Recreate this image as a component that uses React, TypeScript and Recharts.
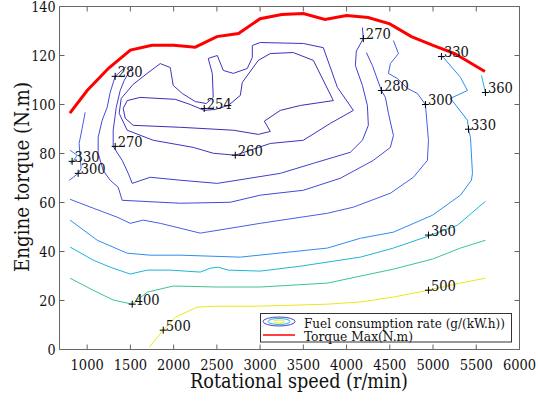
import React from 'react';
import { ComposedChart, Line, Scatter, XAxis, YAxis } from 'recharts';

const SERIF = 'DejaVu Serif Condensed, DejaVu Serif';
const AXIS = '#666';

const speedTicks = [1000, 1500, 2000, 2500, 3000, 3500, 4000, 4500, 5000, 5500, 6000];
const torqueTicks = [0, 20, 40, 60, 80, 100, 120, 140];

// max torque curve
const maxSpeed = [800, 1000, 1250, 1500, 1750, 2000, 2250, 2500, 2750, 3000, 3250, 3500, 3750, 4000, 4250, 4500, 4750, 5000, 5250, 5600];
const maxTorque = [96.5, 105.7, 114.9, 122.2, 124.2, 124.2, 123.4, 127.7, 129.0, 135.0, 136.7, 137.1, 134.7, 136.3, 135.5, 132.9, 127.7, 124.1, 120.8, 113.5];

// fuel consumption contours, [speed, torque]
const c254: [number, number][] = [
  [2354, 97.6], [2192, 100.0], [2019, 102.1], [1613, 102.9], [1463, 101.6], [1417, 98.4], [1440, 94.4],
  [1532, 91.5], [2076, 90.7], [2690, 89.5], [2979, 87.8], [3118, 89.0], [3049, 93.2], [3234, 97.6],
  [3465, 99.6], [3847, 101.6], [3616, 118.0], [3384, 121.2], [3118, 120.8], [2979, 118.0], [2794, 109.0],
  [2771, 103.7], [2632, 99.6], [2481, 98.0], [2354, 97.6],
];
const c260: [number, number][] = [
  [1463, 89.5], [1370, 96.4], [1394, 102.5], [1532, 108.2], [1694, 112.7], [1845, 116.7], [1961, 115.1],
  [1995, 107.8], [2100, 104.5], [2250, 101.2], [2377, 100.4], [2458, 102.9], [2447, 112.7], [2400, 118.8],
  [2505, 120.0], [2574, 113.9], [2690, 112.7], [2852, 114.7], [2910, 119.2], [2910, 124.1], [3002, 125.3],
  [3500, 124.9], [3731, 123.2], [3894, 107.0], [4079, 97.6], [3812, 92.3], [3500, 85.4], [3118, 84.1],
  [2713, 79.3], [2458, 80.1], [2227, 82.5], [1764, 85.4], [1463, 89.5],
];
const c270: [number, number][] = [
  [1521, 115.5], [1428, 109.8], [1382, 105.7], [1336, 98.8], [1301, 89.5], [1301, 82.9], [1405, 77.2],
  [1475, 71.9], [1521, 67.8], [1729, 70.3], [2076, 69.1], [2505, 67.8], [3234, 71.9], [3616, 76.0],
  [4044, 80.5], [4183, 85.4], [4252, 91.5], [4241, 99.6], [4183, 107.8], [4102, 115.9], [4113, 121.8],
  [4194, 126.9], [4183, 131.4],
];
const c280: [number, number][] = [
  [1451, 115.5], [1324, 111.5], [1266, 104.9], [1231, 98.8], [1174, 93.6], [1127, 86.6], [1127, 80.1],
  [1185, 73.1], [1266, 69.1], [1359, 66.2], [1405, 60.9], [2076, 59.7], [2655, 60.1], [3002, 63.0],
  [3500, 65.0], [3928, 69.9], [4310, 77.2], [4507, 82.5], [4542, 87.4], [4484, 96.4], [4449, 102.9],
  [4403, 105.7], [4299, 115.9], [4229, 121.2],
];
const c300Left: [number, number][] = [
  [977, 96.8], [942, 90.3], [907, 84.1], [919, 78.0], [931, 73.9], [896, 71.9], [826, 69.9], [792, 69.1],
];
const c300: [number, number][] = [
  [803, 61.3], [1069, 57.7], [1347, 54.0], [1498, 51.5], [1648, 52.8], [1845, 51.5], [2308, 47.5],
  [3002, 51.5], [3778, 55.6], [4079, 58.1], [4507, 63.8], [4773, 70.3], [4935, 77.2], [4947, 85.4],
  [4912, 100.0], [4819, 104.5], [4704, 106.6], [4588, 110.6], [4484, 112.7], [4507, 116.7], [4600, 120.8],
  [4542, 126.1],
];
const c330Left: [number, number][] = [[803, 81.3], [884, 79.3], [838, 76.8], [803, 76.0]];
const c330: [number, number][] = [
  [803, 52.8], [1116, 44.6], [1463, 39.3], [1729, 38.5], [2076, 38.5], [2771, 37.7], [3778, 41.4],
  [4160, 45.4], [4542, 47.9], [4993, 54.8], [5317, 63.0], [5444, 69.1], [5456, 71.9], [5433, 86.6],
  [5410, 89.9], [5398, 93.6], [5201, 102.5], [5398, 105.7], [5317, 111.1], [5120, 119.2], [5097, 119.6],
];
const c360Top: [number, number][] = [[5560, 111.9], [5606, 104.9]];
const c360: [number, number][] = [
  [803, 41.8], [1069, 36.5], [1266, 33.6], [1498, 30.8], [1694, 32.4], [1961, 32.4], [2308, 31.6],
  [2424, 33.2], [2516, 33.6], [2632, 32.4], [3002, 32.0], [3465, 34.0], [4160, 37.7], [4542, 41.4],
  [4947, 46.3], [5282, 50.7], [5606, 60.5],
];
const c400: [number, number][] = [
  [803, 29.1], [1069, 24.2], [1301, 20.2], [1521, 18.5], [1694, 23.4], [1995, 25.9], [2505, 25.5],
  [3002, 25.5], [3778, 27.1], [4542, 32.8], [4993, 36.9], [5317, 41.4], [5606, 44.6],
];
const c500: [number, number][] = [
  [1718, 1.0], [1880, 7.9], [2019, 13.2], [2273, 17.3], [2505, 17.7], [3002, 17.7], [3778, 18.5],
  [4160, 19.4], [4542, 21.4], [4947, 24.2], [5317, 27.1], [5606, 29.1],
];

// contour label positions
const labelSpeed = [1324, 2354, 1324, 2713, 826, 896, 4194, 5097, 5606, 4403, 4912, 5410, 4947, 4947, 1521, 1880];
const labelTorque = [111.5, 98.4, 82.9, 79.3, 76.8, 71.9, 126.9, 119.6, 104.9, 105.7, 100.0, 89.9, 46.7, 24.2, 18.5, 7.9];
const labelText = ['280', '254', '270', '260', '330', '300', '270', '330', '360', '280', '300', '330', '360', '500', '400', '500'];

const contours: { pts: [number, number][]; color: string }[] = [
  { pts: c254, color: '#3b2fb5' },
  { pts: c260, color: '#3d35c0' },
  { pts: c270, color: '#3f3fcc' },
  { pts: c280, color: '#4349d8' },
  { pts: c300Left, color: '#4560e6' },
  { pts: c300, color: '#4560e6' },
  { pts: c330Left, color: '#2f8cf0' },
  { pts: c330, color: '#2f8cf0' },
  { pts: c360Top, color: '#1db5d8' },
  { pts: c360, color: '#1db5d8' },
  { pts: c400, color: '#3cc48e' },
  { pts: c500, color: '#ece61a' },
];

const torqueMax = maxSpeed.map((x, i) => ({ x, y: maxTorque[i] }));
const labels = labelSpeed.map((x, i) => ({ x, y: labelTorque[i], text: labelText[i] }));

// serif text squeezed to Times-like widths
const T = ({ w, ...rest }: any) => (
  <text fontFamily={SERIF} fill="#111" textLength={w} lengthAdjust="spacingAndGlyphs" {...rest} />
);

const BottomTick = ({ x, y, payload }: any) => (
  <g>
    <line x1={x} y1={y} x2={x} y2={y - 5} stroke={AXIS} />
    <T x={x} y={y + 20.5} textAnchor="middle" fontSize={15} w={String(payload.value).length * 8.3}>
      {payload.value}
    </T>
  </g>
);
const TopTick = ({ x, y }: any) => <line x1={x} y1={y} x2={x} y2={y + 5} stroke={AXIS} />;
const LeftTick = ({ x, y, payload }: any) => (
  <g>
    <line x1={x} y1={y} x2={x + 5} y2={y} stroke={AXIS} />
    <T x={x - 4} y={y + 5.5} textAnchor="end" fontSize={15} w={String(payload.value).length * 8.1}>
      {payload.value}
    </T>
  </g>
);
const RightTick = ({ x, y }: any) => <line x1={x} y1={y} x2={x - 5} y2={y} stroke={AXIS} />;

const LevelMark = (props: any) => {
  const { cx, cy, payload } = props;
  return (
    <g>
      <line x1={cx - 3.5} y1={cy} x2={cx + 3.5} y2={cy} stroke="#000" />
      <line x1={cx} y1={cy - 3.5} x2={cx} y2={cy + 3.5} stroke="#000" />
      <T x={cx + 2.5} y={cy + 0.5} fontSize={15} w={25}>{payload.text}</T>
    </g>
  );
};

export default function App() {
  return (
    <div style={{ position: 'absolute', left: 0, top: 0, width: 538, height: 405, background: '#fff' }}>
      <ComposedChart width={538} height={405} margin={{ top: 5.5, right: 17.5, bottom: 25.5, left: 19.5 }}>
        <XAxis
          dataKey="x"
          type="number"
          domain={[680, 6000]}
          ticks={speedTicks}
          allowDataOverflow
          height={30}
          tickSize={0}
          tickMargin={0}
          tickLine={false}
          tick={<BottomTick />}
          axisLine={{ stroke: AXIS }}
          interval={0}
        />
        <XAxis
          xAxisId="top"
          orientation="top"
          dataKey="x"
          type="number"
          domain={[680, 6000]}
          ticks={speedTicks}
          allowDataOverflow
          height={1}
          tickSize={0}
          tickMargin={0}
          tickLine={false}
          tick={<TopTick />}
          axisLine={{ stroke: AXIS }}
          interval={0}
        />
        <YAxis
          dataKey="y"
          type="number"
          domain={[0, 140]}
          ticks={torqueTicks}
          allowDataOverflow
          width={40}
          tickSize={0}
          tickMargin={0}
          tickLine={false}
          tick={<LeftTick />}
          axisLine={{ stroke: AXIS }}
          interval={0}
        />
        <YAxis
          yAxisId="right"
          orientation="right"
          dataKey="y"
          type="number"
          domain={[0, 140]}
          ticks={torqueTicks}
          allowDataOverflow
          width={1}
          tickSize={0}
          tickMargin={0}
          tickLine={false}
          tick={<RightTick />}
          axisLine={{ stroke: AXIS }}
          interval={0}
        />
        {contours.map((c, i) => (
          <Line
            key={i}
            data={c.pts.map(([x, y]) => ({ x, y }))}
            dataKey="y"
            type="linear"
            stroke={c.color}
            strokeWidth={1}
            dot={false}
            activeDot={false}
            isAnimationActive={false}
          />
        ))}
        <Line
          data={torqueMax}
          dataKey="y"
          type="linear"
          stroke="#ff0000"
          strokeWidth={3}
          dot={false}
          activeDot={false}
          isAnimationActive={false}
        />
        <Scatter data={labels} dataKey="y" shape={<LevelMark />} isAnimationActive={false} />
      </ComposedChart>
      <svg width={538} height={405} style={{ position: 'absolute', left: 0, top: 0, pointerEvents: 'none' }}>
        <T x={190} y={388} fontSize={20} w={218}>Rotational speed (r/min)</T>
        <T x={0} y={0} transform="translate(29 272) rotate(-90)" fontSize={20} w={190}>
          Engine torque (N.m)
        </T>
        <rect x={260.5} y={313.5} width={251} height={28.5} fill="#fff" stroke="#333" />
        <ellipse cx={279} cy={321.5} rx={16} ry={4.5} fill="none" stroke="#4a44c8" />
        <ellipse cx={279} cy={321.5} rx={11} ry={3} fill="none" stroke="#1db5d8" />
        <ellipse cx={279} cy={321.5} rx={5.5} ry={1.5} fill="none" stroke="#ece61a" />
        <T x={304} y={327.5} fontSize={13.7} w={201}>Fuel consumption rate (g/(kW.h))</T>
        <line x1={263} y1={335} x2={295} y2={335} stroke="#ff0000" strokeWidth={1.5} />
        <T x={304} y={341} fontSize={13.7} w={109}>Torque Max(N.m)</T>
      </svg>
    </div>
  );
}
